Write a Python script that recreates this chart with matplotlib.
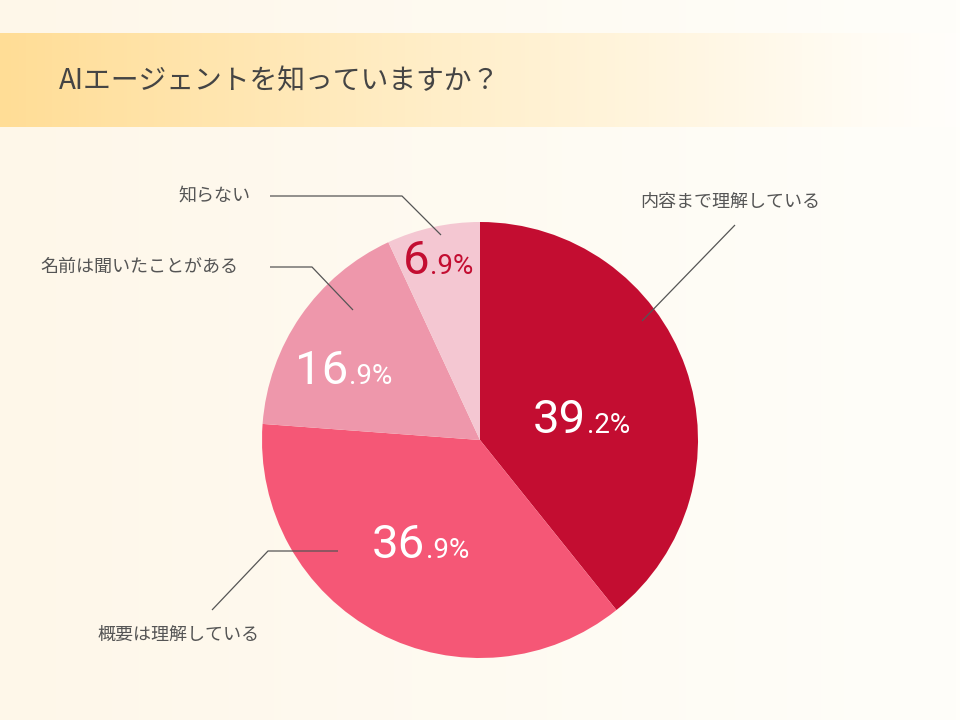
import numpy as np
import matplotlib
matplotlib.use("Agg")
import matplotlib.pyplot as plt
from matplotlib.colors import LinearSegmentedColormap

plt.rcParams['font.family'] = ['Noto Sans CJK JP', 'DejaVu Sans']

# ---- data ----
title = "AIエージェントを知っていますか？"
categories = ["内容まで理解している", "概要は理解している", "名前は聞いたことがある", "知らない"]
values = [39.2, 36.9, 16.9, 6.9]
colors = ["#C30D31", "#F55776", "#EE97AB", "#F4C7D2"]
pct_colors = ["white", "white", "white", "#C30D31"]

# ---- layout (pixel coords, y measured from top) ----
W, H = 960, 720
cx, cy, R = 480, 440, 218
# split point between big integer part and small ".x%" part, baseline y
pct_anchor = [(586, 433), (425, 558), (348, 384), (429, 274)]
# category labels: (x, y, ha)
label_pos = [(640, 202, 'left'), (97, 635, 'left'), (238, 267, 'right'), (250, 196, 'right')]
# leader lines: polyline points
leaders = [
    [(735, 225), (642, 321)],
    [(338, 551), (268, 551), (212, 610)],
    [(270, 267), (312, 267), (353, 310)],
    [(270, 196), (402, 196), (441, 235)],
]

fig = plt.figure(figsize=(W / 100, H / 100), dpi=100)
ax = fig.add_axes([0, 0, 1, 1])

def Y(y):
    return H - y

# background gradient
bg = LinearSegmentedColormap.from_list("bg", [(254/255, 247/255, 233/255), (1, 254/255, 250/255)])
grad = np.linspace(0, 1, 256).reshape(1, -1)
ax.imshow(grad, cmap=bg, extent=(0, W, 0, H), aspect='auto', zorder=0)

# title band gradient
band = LinearSegmentedColormap.from_list(
    "band", [(0.0, (255/255, 221/255, 150/255)), (0.45, (255/255, 238/255, 200/255)),
             (0.9, (255/255, 252/255, 244/255)), (1.0, (255/255, 254/255, 251/255))])
ax.imshow(grad, cmap=band, extent=(0, W, Y(127), Y(33)), aspect='auto', zorder=1)
ax.text(59, Y(81), title, fontsize=20, color="#444444", va='center', ha='left', zorder=3)

# pie
ax.pie(values, colors=colors, startangle=90, counterclock=False,
       center=(cx, Y(cy)), radius=R, wedgeprops=dict(linewidth=0), frame=False)
ax.set_xlim(0, W)
ax.set_ylim(0, H)
ax.set_aspect('auto')
ax.axis('off')

# percentage labels
for v, (sx, sy), c in zip(values, pct_anchor, pct_colors):
    ip = int(v)
    dp = f".{int(round((v - ip) * 10))}%"
    ax.text(sx, Y(sy), str(ip), fontsize=34, color=c, ha='right', va='baseline',
            family=['Roboto', 'DejaVu Sans'], zorder=5)
    ax.text(sx + 1, Y(sy), dp, fontsize=20, color=c, ha='left', va='baseline',
            family=['Roboto', 'DejaVu Sans'], zorder=5)

# category labels and leader lines
for cat, (lx, ly, ha), pts in zip(categories, label_pos, leaders):
    ax.text(lx, Y(ly), cat, fontsize=13, color="#555555", ha=ha, va='center', zorder=5)
    xs = [p[0] for p in pts]
    ys = [Y(p[1]) for p in pts]
    ax.plot(xs, ys, color="#555555", lw=0.9, zorder=4, solid_capstyle='butt')

fig.savefig("out.png", dpi=100)
